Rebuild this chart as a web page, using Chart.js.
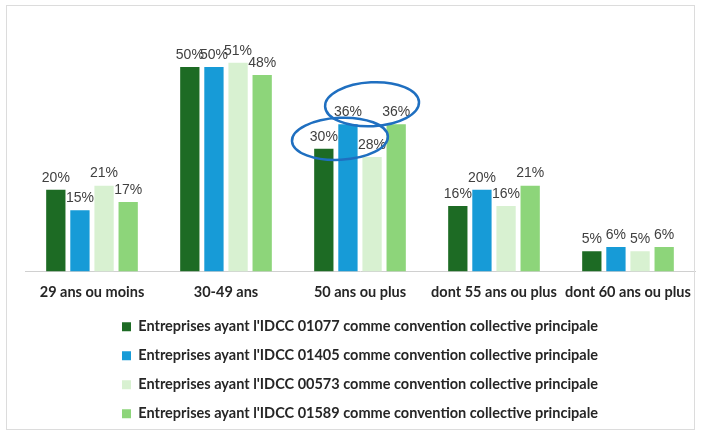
<!DOCTYPE html>
<html>
<head>
<meta charset="utf-8">
<script src="https://cdn.jsdelivr.net/npm/chart.js@4"></script>
<style>
  html, body { margin: 0; padding: 0; background: #fff; }
  #wrap { position: relative; width: 701px; height: 434px; }
  #frame { position: absolute; left: 6px; top: 5px; width: 689px; height: 425px; border: 1px solid #dcdcdc; box-sizing: border-box; }
</style>
</head>
<body>
<div id="wrap">
  <div id="frame"></div>
  <canvas id="ageChart" width="701" height="434"></canvas>
</div>
<script>
const categories = ['29 ans ou moins', '30-49 ans', '50 ans ou plus', 'dont 55 ans ou plus', 'dont 60 ans ou plus'];
const seriesNames = [
  "Entreprises ayant l'IDCC 01077 comme convention collective principale",
  "Entreprises ayant l'IDCC 01405 comme convention collective principale",
  "Entreprises ayant l'IDCC 00573 comme convention collective principale",
  "Entreprises ayant l'IDCC 01589 comme convention collective principale"
];
const idcc01077 = [20, 50, 30, 16, 5];
const idcc01405 = [15, 50, 36, 20, 6];
const idcc00573 = [21, 51, 28, 16, 5];
const idcc01589 = [17, 48, 36, 21, 6];

const colors = ['#1d6b24', '#179bd7', '#d8f1d1', '#8dd57a'];

// value labels above each bar
const barLabels = {
  id: 'barLabels',
  afterDatasetsDraw(chart) {
    const ctx = chart.ctx;
    ctx.save();
    ctx.font = '14px "Liberation Sans", Arial, sans-serif';
    ctx.fillStyle = '#404040';
    ctx.textAlign = 'center';
    ctx.textBaseline = 'bottom';
    chart.data.datasets.forEach((ds, i) => {
      chart.getDatasetMeta(i).data.forEach((bar, j) => {
        ctx.fillText(ds.data[j] + '%', bar.x, bar.y - 5);
      });
    });
    ctx.restore();
  }
};

// the two blue circles drawn on the "50 ans ou plus" group
const circles = {
  id: 'circles',
  afterDatasetsDraw(chart) {
    const ctx = chart.ctx;
    const b0 = chart.getDatasetMeta(0).data[2];
    const b1 = chart.getDatasetMeta(1).data[2];
    const b2 = chart.getDatasetMeta(2).data[2];
    const b3 = chart.getDatasetMeta(3).data[2];
    ctx.save();
    ctx.strokeStyle = '#1f6fc0';
    ctx.lineWidth = 2.5;
    ctx.beginPath();
    ctx.ellipse((b0.x + b2.x) / 2 - 8, b0.y - 10, 48, 21, -0.05, 0, Math.PI * 2);
    ctx.stroke();
    ctx.beginPath();
    ctx.ellipse((b1.x + b3.x) / 2, b1.y - 20, 47, 22, -0.05, 0, Math.PI * 2);
    ctx.stroke();
    ctx.restore();
  }
};

const series = [idcc01077, idcc01405, idcc00573, idcc01589];

new Chart(document.getElementById('ageChart'), {
  type: 'bar',
  data: {
    labels: categories,
    datasets: series.map((d, i) => ({
      label: seriesNames[i],
      data: d,
      backgroundColor: colors[i],
      categoryPercentage: 0.72,
      barPercentage: 0.8
    }))
  },
  options: {
    responsive: false,
    animation: false,
    layout: { padding: { left: 25, right: 6, top: 26, bottom: 3 } },
    scales: {
      y: { display: false, min: 0, max: 60 },
      x: {
        grid: { display: false },
        border: { color: '#d0d0d0', width: 1 },
        ticks: {
          color: '#262626',
          font: { family: 'Lato, sans-serif', size: 14.5, weight: 'bold' },
          padding: 4
        }
      }
    },
    plugins: {
      tooltip: { enabled: false },
      legend: {
        position: 'bottom',
        labels: {
          color: '#262626',
          font: { family: 'Lato, sans-serif', size: 14.5, weight: 'bold' },
          boxWidth: 9,
          boxHeight: 9,
          padding: 14.5
        }
      }
    }
  },
  plugins: [barLabels, circles]
});
</script>
</body>
</html>
